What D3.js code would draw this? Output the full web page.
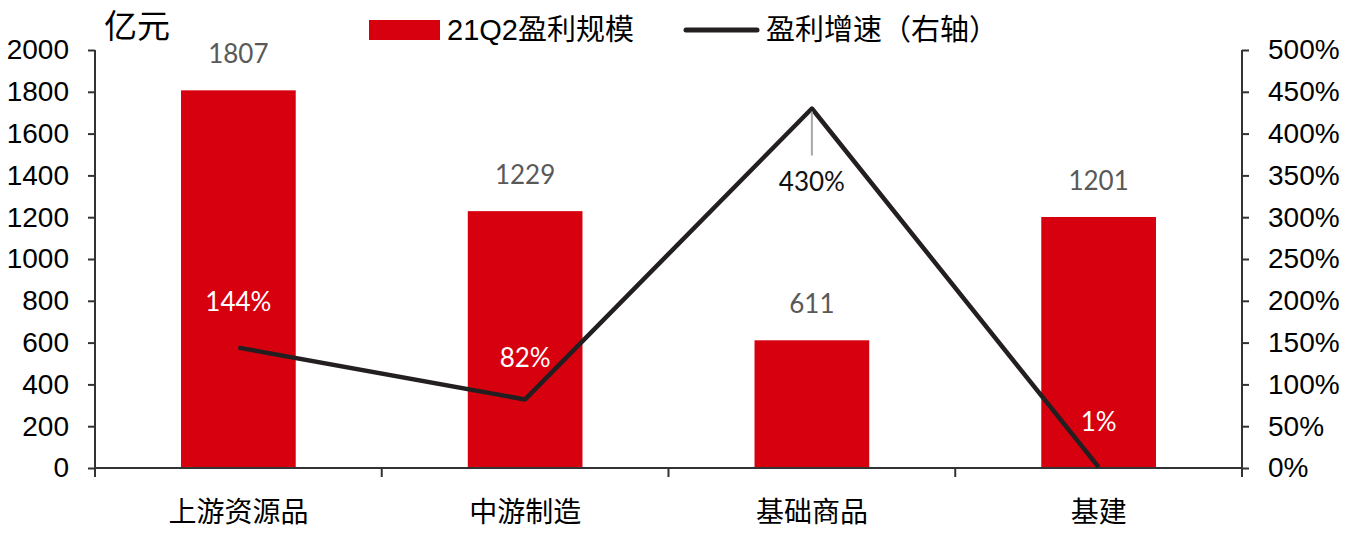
<!DOCTYPE html>
<html><head><meta charset="utf-8">
<script src="https://cdn.jsdelivr.net/npm/d3@7"></script>
<style>body{margin:0;background:#fff}svg{display:block}</style>
</head><body>
<svg id="c" width="1356" height="540"></svg>
<script>
const categories = ["上游资源品", "中游制造", "基础商品", "基建"];
const profit = [1807, 1229, 611, 1201];
const growth = [144, 82, 430, 1];
const leftTicks = [0,200,400,600,800,1000,1200,1400,1600,1800,2000];
const rightTicks = [0,50,100,150,200,250,300,350,400,450,500];
const barName = "21Q2盈利规模";
const lineName = "盈利增速（右轴）";
const unitLabel = "亿元";

const svg = d3.select("#c");
const L = 95, R = 1242, T = 50, B = 468;
const cjk = "'Liberation Sans','Noto Sans CJK SC',sans-serif";
const x = d3.scaleBand().domain(categories).range([L, R]).paddingInner(0).paddingOuter(0);
const yL = d3.scaleLinear().domain([0, 2000]).range([B, T]);
const yR = d3.scaleLinear().domain([0, 500]).range([B, T]);
const barW = x.bandwidth() * 0.4;

// bars
svg.selectAll("rect.bar").data(profit).join("rect")
  .attr("x", (d,i) => x(categories[i]) + x.bandwidth()/2 - barW/2)
  .attr("y", d => yL(d)).attr("width", barW).attr("height", d => B - yL(d))
  .attr("fill", "#d7000f");

// axes
const axL = svg.append("g").attr("transform", `translate(${L},0)`)
  .call(d3.axisLeft(yL).tickValues(leftTicks).tickSize(7).tickPadding(19).tickFormat(d3.format("d")));
const axR = svg.append("g").attr("transform", `translate(${R},0)`)
  .call(d3.axisRight(yR).tickValues(rightTicks).tickSize(7).tickPadding(19).tickFormat(d => d + "%"));
const axB = svg.append("g").attr("transform", `translate(0,${B})`)
  .call(d3.axisBottom(x).tickSize(0).tickPadding(34));
[axL, axR, axB].forEach(g => {
  g.selectAll("path.domain").attr("stroke", "#333").attr("stroke-width", 2);
  g.selectAll(".tick line").attr("stroke", "#333").attr("stroke-width", 2);
  g.selectAll("text").attr("fill", "#000").style("font-family", cjk).style("font-size", "28px");
});
axL.select("path.domain").attr("d", `M0,${B}V${T}`);
axR.select("path.domain").attr("d", `M0,${B}V${T}`);
axB.select("path.domain").attr("d", `M${L},0H${R}`);
axB.selectAll("text").style("font-size", "28px").attr("dy", "0.71em");
// category boundary ticks
const bounds = [L].concat(categories.map(c => x(c) + x.bandwidth()));
svg.append("g").selectAll("line").data(bounds).join("line")
  .attr("x1", d => d).attr("x2", d => d).attr("y1", B).attr("y2", B + 9)
  .attr("stroke", "#333").attr("stroke-width", 2);

// line
const cx = i => x(categories[i]) + x.bandwidth()/2;
svg.append("path").datum(growth)
  .attr("d", d3.line().x((d,i) => cx(i)).y(d => yR(d)))
  .attr("fill", "none").attr("stroke", "#231f20").attr("stroke-width", 4.5).attr("stroke-linejoin", "round");

// bar value labels
svg.selectAll("text.bv").data(profit).join("text")
  .attr("x", (d,i) => cx(i)).attr("y", d => yL(d) - 27)
  .attr("text-anchor", "middle").attr("fill", "#595959")
  .style("font-family", "Lato,'Open Sans',sans-serif").style("font-size", "26px")
  .text(d => d);

// growth labels
const gOff = [[0,-37,"#fff"],[0,-32,"#fff"],[0,82,"#111"],[0,-36,"#fff"]];
svg.selectAll("text.gv").data(growth).join("text")
  .attr("x", (d,i) => cx(i) + gOff[i][0]).attr("y", (d,i) => yR(d) + gOff[i][1])
  .attr("text-anchor", "middle").attr("fill", (d,i) => gOff[i][2])
  .style("font-family", "Lato,'Open Sans',sans-serif").style("font-size", "26px")
  .text(d => d + "%");
// leader line for peak
svg.append("line").attr("x1", cx(2)).attr("x2", cx(2))
  .attr("y1", yR(growth[2]) + 3).attr("y2", yR(growth[2]) + 47)
  .attr("stroke", "#a6a6a6").attr("stroke-width", 2);

// unit label
svg.append("text").attr("x", 104).attr("y", 38).text(unitLabel)
  .style("font-family", cjk).style("font-size", "33px").attr("fill", "#000");

// legend
svg.append("rect").attr("x", 369).attr("y", 20).attr("width", 71).attr("height", 20).attr("fill", "#d7000f");
svg.append("text").attr("x", 447).attr("y", 40).text(barName)
  .style("font-family", cjk).style("font-size", "29px").attr("fill", "#000");
svg.append("line").attr("x1", 686).attr("x2", 757).attr("y1", 30).attr("y2", 30)
  .attr("stroke", "#231f20").attr("stroke-width", 5).attr("stroke-linecap", "round");
svg.append("text").attr("x", 766).attr("y", 40).text(lineName)
  .style("font-family", cjk).style("font-size", "29px").attr("fill", "#000");
</script>
</body></html>
